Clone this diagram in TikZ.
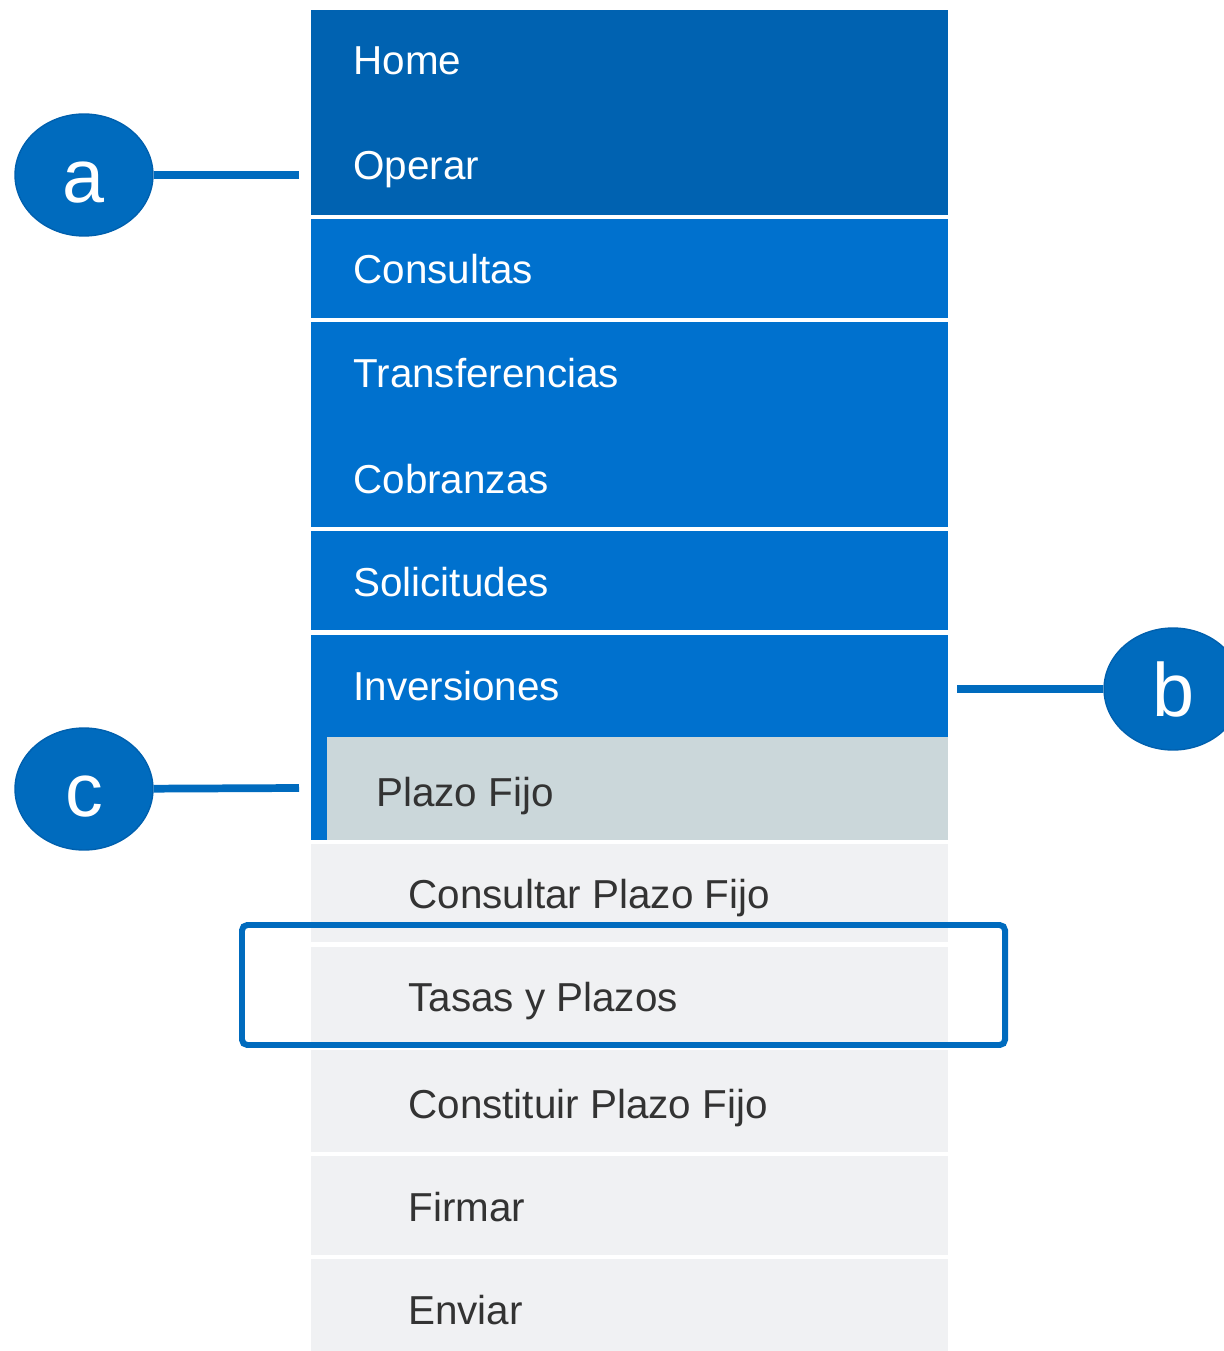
\documentclass[tikz,border=0pt]{standalone}
\usepackage{fontspec}
\setmainfont{Liberation Sans}
\usepackage{xcolor}
\usetikzlibrary{shapes.geometric,positioning}
\definecolor{navdark}{HTML}{0062B1}
\definecolor{navblue}{HTML}{0071CE}
\definecolor{subgrey}{HTML}{CBD7DA}
\definecolor{itemgrey}{HTML}{F0F1F3}
\definecolor{calloutblue}{HTML}{006BBE}
\definecolor{calloutedge}{HTML}{0060AE}
\definecolor{textdark}{HTML}{333333}
\tikzset{
  entry/.style    = {anchor=base west, inner sep=0pt,
                     font=\fontsize{23}{27}\selectfont},
  topentry/.style = {entry, text=white},
  subentry/.style = {entry, text=textdark},
  callout/.style  = {shape=ellipse, fill=calloutblue, draw=calloutedge,
                     line width=0.8pt, text=white, inner sep=0pt,
                     minimum width=2.76cm, minimum height=2.44cm,
                     text height=31pt, text depth=0pt,
                     font=\fontsize{43}{50}\selectfont},
  pointer/.style  = {draw=calloutblue, line width=4.4pt},
  marker/.style   = {draw=calloutblue, line width=3.4pt, rounded corners=3pt}
}

\begin{document}
\begin{tikzpicture}[x=0.02cm, y=-0.02cm]
  \useasboundingbox (0,0) rectangle (1223,1351);
  % menu bars
  \fill[navdark]  (311,10)   rectangle (948,215);
  \fill[navblue]  (311,219)  rectangle (948,318);
  \fill[navblue]  (311,322)  rectangle (948,527);
  \fill[navblue]  (311,531)  rectangle (948,630);
  \fill[navblue]  (311,635)  rectangle (948,840);
  \fill[subgrey]  (327,737)  rectangle (948,840);
  \fill[itemgrey] (311,844)  rectangle (948,942);
  \fill[itemgrey] (311,947)  rectangle (948,1046);
  \fill[itemgrey] (311,1050) rectangle (948,1152);
  \fill[itemgrey] (311,1156) rectangle (948,1255);
  \fill[itemgrey] (311,1259) rectangle (948,1351);

  \node [topentry] (home)   at (353,75)   {Home};
  \node [topentry] (operar) at (353,180)  {Operar};
  \node [topentry] (cons)   at (353,284)  {Consultas};
  \node [topentry] (transf) at (353,387)  {Transferencias};
  \node [topentry] (cobr)   at (353,493)  {Cobranzas};
  \node [topentry] (solic)  at (353,596)  {Solicitudes};
  \node [topentry] (inver)  at (353,700)  {Inversiones};
  \node [subentry] (plazo)  at (376,806)  {Plazo Fijo};
  \node [subentry] (consPF) at (408,908)  {Consultar Plazo Fijo};
  \node [subentry] (tasas)  at (408,1011) {Tasas y Plazos};
  \node [subentry] (constPF) at (408,1118) {Constituir Plazo Fijo};
  \node [subentry] (firmar) at (408,1221) {Firmar};
  \node [subentry] (enviar) at (408,1324) {Enviar};

  \draw [marker] (242,925) rectangle (1005,1045);

  % callouts
  \node [callout] (a) at (84,175)  {a};
  \node [callout] (b) at (1173,689) {b};
  \node [callout] (c) at (84,789)  {c};
  \coordinate (a end) at (299,175);
  \coordinate (b end) at (957,689);
  \coordinate (c end) at (299,788);
  \draw [pointer] (a) -- (a end);
  \draw [pointer] (b end) -- (b);
  \draw [pointer] (c) -- (c end);
\end{tikzpicture}
\end{document}
